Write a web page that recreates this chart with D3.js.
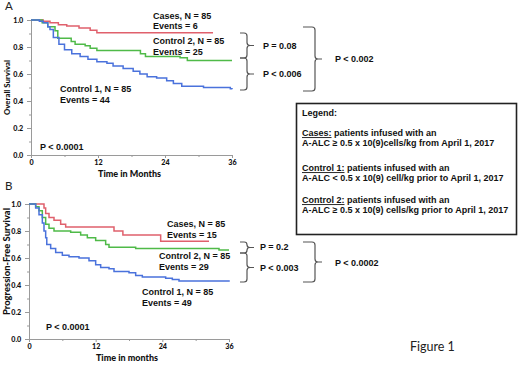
<!DOCTYPE html>
<html><head><meta charset="utf-8">
<script src="https://cdn.jsdelivr.net/npm/d3@7"></script>
<style>body{margin:0;background:#fff}svg{display:block}</style>
</head><body>
<svg id="c" width="520" height="366"></svg>
<script>
// ---------- DATA ----------
// Panel A: Overall Survival (step points: time in months, survival from that time on)
const osCasesT = [0, 2.2, 3.4, 4.9, 6.4, 8.6, 10.6, 11.8, 32.6];
const osCasesS = [1.0, 0.99, 0.98, 0.965, 0.955, 0.94, 0.925, 0.905, 0.905];
const osCtrl2T = [0, 2.0, 3.0, 4.3, 4.8, 7.2, 7.9, 9.7, 10.6, 11.8, 19.6, 20.5, 26.7, 28.0, 36];
const osCtrl2S = [1.0, 0.98, 0.95, 0.92, 0.865, 0.84, 0.82, 0.81, 0.79, 0.775, 0.75, 0.73, 0.72, 0.70, 0.70];
const osCtrl1T = [0, 1.5, 2.2, 3.0, 3.4, 4.0, 5.0, 6.0, 7.3, 8.8, 10.2, 11.8, 13.6, 14.7, 16.5, 18.3, 19.5, 20.8, 22.5, 24.3, 25.5, 27.0, 30.9, 35.7, 36];
const osCtrl1S = [1.0, 0.99, 0.98, 0.95, 0.93, 0.87, 0.82, 0.78, 0.75, 0.73, 0.71, 0.69, 0.68, 0.66, 0.64, 0.62, 0.60, 0.58, 0.57, 0.55, 0.53, 0.51, 0.50, 0.49, 0.487];
// Panel B: Progression-Free Survival
const pfsCasesT = [0, 2.7, 3.0, 3.6, 4.5, 5.7, 6.6, 7.5, 15.3, 16.9, 23.7, 32.4];
const pfsCasesS = [1.0, 0.97, 0.93, 0.90, 0.88, 0.85, 0.83, 0.83, 0.80, 0.77, 0.725, 0.725];
const pfsCtrl2T = [0, 1.2, 1.8, 2.4, 3.0, 3.6, 4.5, 7.5, 9.3, 10.5, 12.0, 13.8, 14.4, 19.2, 34.2, 36];
const pfsCtrl2S = [1.0, 0.98, 0.95, 0.90, 0.85, 0.82, 0.80, 0.79, 0.77, 0.75, 0.73, 0.70, 0.68, 0.67, 0.66, 0.66];
const pfsCtrl1T = [0, 1.2, 1.8, 2.4, 2.7, 3.0, 3.2, 3.9, 4.8, 6.0, 7.2, 9.0, 10.8, 12.0, 12.9, 14.4, 15.3, 18.0, 19.2, 20.4, 24.6, 25.8, 27.0, 36];
const pfsCtrl1S = [1.0, 0.97, 0.92, 0.86, 0.80, 0.75, 0.70, 0.67, 0.64, 0.62, 0.61, 0.60, 0.58, 0.55, 0.53, 0.52, 0.50, 0.49, 0.47, 0.46, 0.45, 0.44, 0.43, 0.425];

const xTicks = [0, 12, 24, 36];
const xMinorTicks = [6, 18, 30];
const yTicks = [0, 0.2, 0.4, 0.6, 0.8, 1.0];
const yMinorTicks = [0.1, 0.3, 0.5, 0.7, 0.9];

const seriesColors = {cases: "#e0606c", ctrl2: "#4fba48", ctrl1: "#4a72dc"};

const legendLines = [
  {u: "", t: "Legend:"},
  {u: "Cases:", t: " patients infused with an"},
  {u: "", t: "A-ALC \u2265 0.5 x 10(9)cells/kg from April 1, 2017"},
  {u: "Control 1:", t: " patients infused with an"},
  {u: "", t: "A-ALC < 0.5 x 10(9) cell/kg prior to April 1, 2017"},
  {u: "Control 2:", t: " patients infused with an"},
  {u: "", t: "A-ALC \u2265 0.5 x 10(9) cells/kg prior to April 1, 2017"}
];

// ---------- DRAW ----------
const svg = d3.select("#c");
const zip = (T, S) => T.map((t, i) => [t, S[i]]);

const panels = [
  {letter: "A", ytitle: "Overall Survival", xtitle: "Time in Months", x0: 31, x1: 232, yTop: 20, yBot: 155,
   ytSize: 7.8, letterY: 10,
   series: [["cases", zip(osCasesT, osCasesS)], ["ctrl2", zip(osCtrl2T, osCtrl2S)], ["ctrl1", zip(osCtrl1T, osCtrl1S)]],
   labels: [[153, 16, "Cases, N = 85"], [153, 26, "Events = 6"], [153, 41, "Control 2, N = 85"], [153, 52, "Events = 25"],
            [60, 89, "Control 1, N = 85"], [60, 99.5, "Events = 44"], [40, 147, "P < 0.0001"]],
   brackets: [[240, 247, 33, 58, 263, 46, "P = 0.08"], [240, 247, 58, 90, 263, 74, "P < 0.006"], [303, 315, 27, 91, 335, 59, "P < 0.002"]]},
  {letter: "B", ytitle: "Progression-Free Survival", xtitle: "Time in months", x0: 29, x1: 229, yTop: 204, yBot: 339,
   ytSize: 9.4, letterY: 190,
   series: [["cases", zip(pfsCasesT, pfsCasesS)], ["ctrl2", zip(pfsCtrl2T, pfsCtrl2S)], ["ctrl1", zip(pfsCtrl1T, pfsCtrl1S)]],
   labels: [[167, 224, "Cases, N = 85"], [167, 235, "Events = 15"], [159, 256, "Control 2, N = 85"], [159, 267, "Events = 29"],
            [142, 292, "Control 1, N = 85"], [142, 303, "Events = 49"], [46, 327, "P < 0.0001"]],
   brackets: [[240, 247, 242, 253, 260, 247, "P = 0.2"], [240, 247, 253, 282, 260, 268, "P < 0.003"], [303, 315, 242, 282, 335, 263, "P < 0.0002"]]}
];

const axisColor = "#9a9a9a";

panels.forEach(p => {
  const x = d3.scaleLinear().domain([0, 36]).range([p.x0, p.x1]);
  const y = d3.scaleLinear().domain([0, 1]).range([p.yBot, p.yTop]);
  const g = svg.append("g");

  // x axis
  const xa = g.append("g").attr("transform", `translate(0,${p.yBot})`)
    .call(d3.axisBottom(x).tickValues(xTicks).tickFormat(d3.format("d")).tickSize(3).tickSizeOuter(0));
  g.append("g").attr("transform", `translate(0,${p.yBot})`)
    .call(d3.axisBottom(x).tickValues(xMinorTicks).tickFormat("").tickSize(2).tickSizeOuter(0))
    .select(".domain").remove();
  // y axis
  const ya = g.append("g").attr("transform", `translate(${p.x0},0)`)
    .call(d3.axisLeft(y).tickValues(yTicks).tickFormat(d3.format(".1f")).tickSize(4).tickSizeOuter(0));
  g.append("g").attr("transform", `translate(${p.x0},0)`)
    .call(d3.axisLeft(y).tickValues(yMinorTicks).tickFormat("").tickSize(2).tickSizeOuter(0))
    .select(".domain").remove();

  g.selectAll(".domain, .tick line").attr("stroke", axisColor).attr("stroke-width", 1);
  xa.selectAll("text").attr("font-family", "Lato").attr("font-weight", "900").attr("font-size", 7.2).attr("fill", "#111").attr("dy", "0.55em");
  ya.selectAll("text").attr("font-family", "Lato").attr("font-weight", "900").attr("font-size", 7.2).attr("fill", "#111").attr("dx", "-0.1em");

  // curves
  const line = d3.line().x(d => x(d[0])).y(d => y(d[1])).curve(d3.curveStepAfter);
  p.series.forEach(([k, pts]) => {
    g.append("path").attr("d", line(pts)).attr("fill", "none")
      .attr("stroke", seriesColors[k]).attr("stroke-width", 1.5);
  });

  // titles
  g.append("text").attr("x", (p.x0 + p.x1) / 2 - 2).attr("y", p.yBot + 22).attr("text-anchor", "middle")
    .attr("font-family", "Lato").attr("font-weight", "900").attr("font-size", 9).attr("fill", "#111").text(p.xtitle);
  g.append("text").attr("transform", `translate(10,${(p.yTop + p.yBot) / 2 - (p.letter === "B" ? 10 : 0)}) rotate(-90)`)
    .attr("text-anchor", "middle").attr("font-family", "Lato").attr("font-weight", "900")
    .attr("font-size", p.ytSize).attr("fill", "#111").text(p.ytitle);
  g.append("text").attr("x", 5).attr("y", p.letterY).attr("font-family", "Lato")
    .attr("font-size", 11.5).attr("fill", "#222").text(p.letter);

  // in-plot labels
  p.labels.forEach(([lx, ly, t]) => {
    g.append("text").attr("x", lx).attr("y", ly).attr("dy", "0.35em")
      .attr("font-family", "Liberation Sans, Arial").attr("font-weight", "bold").attr("font-size", 9)
      .attr("fill", "#111").text(t);
  });

  // brackets
  p.brackets.forEach(([bx0, bx1, by0, by1, tx, ty, t]) => {
    const ym = (by0 + by1) / 2;
    const r = Math.min(3, (by1 - by0) / 4);
    const path = `M${bx0},${by0} L${bx1 - r},${by0} Q${bx1},${by0} ${bx1},${by0 + r} L${bx1},${ym - r} Q${bx1},${ym} ${bx1 + r},${ym} ` +
                 `M${bx1 + r},${ym} Q${bx1},${ym} ${bx1},${ym + r} L${bx1},${by1 - r} Q${bx1},${by1} ${bx1 - r},${by1} L${bx0},${by1}` +
                 ` M${bx1 + r},${ym} L${bx1 + 7},${ym}`;
    g.append("path").attr("d", path).attr("fill", "none").attr("stroke", "#555").attr("stroke-width", 1.2);
    g.append("text").attr("x", tx).attr("y", ty).attr("dy", "0.35em")
      .attr("font-family", "Liberation Sans, Arial").attr("font-weight", "bold").attr("font-size", 9)
      .attr("fill", "#111").text(t);
  });
});

// legend box
const lg = svg.append("g");
lg.append("rect").attr("x", 296.5).attr("y", 103.5).attr("width", 220).attr("height", 131)
  .attr("fill", "#fff").attr("stroke", "#222").attr("stroke-width", 1.6);
const legendY = [113, 133, 143, 168, 178, 200, 210];
legendLines.forEach((l, i) => {
  const t = lg.append("text").attr("x", 302).attr("y", legendY[i]).attr("dy", "0.35em")
    .attr("font-family", "Liberation Sans, Arial").attr("font-weight", "bold").attr("font-size", 9).attr("fill", "#111");
  if (l.u) t.append("tspan").attr("text-decoration", "underline").text(l.u);
  t.append("tspan").text(l.t);
});

svg.append("text").attr("x", 410).attr("y", 351).attr("font-family", "Lato").attr("font-size", 12.5)
  .attr("fill", "#222").text("Figure 1");
</script>
</body></html>
